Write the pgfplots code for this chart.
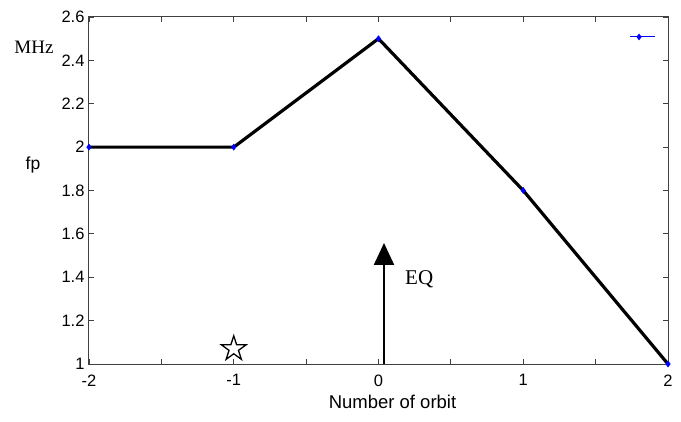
\documentclass[border=0pt]{standalone}
\usepackage{pgfplots}
\pgfplotsset{compat=1.18}
\usepackage{fontspec}
\setmainfont{Liberation Sans}
\newfontfamily\timesf{Liberation Serif}
\usetikzlibrary{arrows.meta}
\pgfdeclareplotmark{ostar}{%
  \pgfpathmoveto{\pgfqpointpolar{90}{\pgfplotmarksize}}%
  \pgfpathlineto{\pgfqpointpolar{126}{0.382\pgfplotmarksize}}%
  \pgfpathlineto{\pgfqpointpolar{162}{\pgfplotmarksize}}%
  \pgfpathlineto{\pgfqpointpolar{198}{0.382\pgfplotmarksize}}%
  \pgfpathlineto{\pgfqpointpolar{234}{\pgfplotmarksize}}%
  \pgfpathlineto{\pgfqpointpolar{270}{0.382\pgfplotmarksize}}%
  \pgfpathlineto{\pgfqpointpolar{306}{\pgfplotmarksize}}%
  \pgfpathlineto{\pgfqpointpolar{342}{0.382\pgfplotmarksize}}%
  \pgfpathlineto{\pgfqpointpolar{18}{\pgfplotmarksize}}%
  \pgfpathlineto{\pgfqpointpolar{54}{0.382\pgfplotmarksize}}%
  \pgfpathclose
  \pgfusepathqfillstroke}
\begin{document}
\begin{tikzpicture}[x=1pt,y=1pt]
\useasboundingbox (0,0) rectangle (681,421);
\begin{axis}[
  at={(89pt,57pt)}, anchor=south west,
  scale only axis, width=579pt, height=347pt,
  xmin=-2, xmax=2, ymin=1, ymax=2.6,
  xtick={-2,-1,0,1,2},
  minor xtick={-1.5,-0.5,0.5,1.5},
  ytick={1,1.2,...,2.6},
  yticklabels={1,1.2,1.4,1.6,1.8,2,2.2,2.4,2.6},
  xticklabels={-2,-1,0,1,2},
  tick pos=both, tick align=inside,
  major tick length=5pt, minor tick length=5pt,
  axis line style={line width=1pt, black!75},
  every tick/.style={black!75, line width=0.8pt},
  tick label style={font=\fontsize{16.5}{18}\selectfont},
  /pgf/number format/assume math mode=true,
  xticklabel style={yshift=-7pt},
  yticklabel style={xshift=-1pt},
  xlabel={\fontsize{18.5}{20}\selectfont Number of orbit},
  xlabel style={yshift=-2pt, xshift=14pt},
  clip=false,
]
\addplot[black, line width=3.2pt, mark=diamond*, mark size=3pt,
  mark options={blue, fill=blue, line width=0.5pt}]
  coordinates {(-2,2) (-1,2) (0,2.5) (1,1.8) (2,1)};
\addplot[blue, line width=1pt, forget plot] coordinates {(1.737,2.508) (1.91,2.508)};
\addplot[only marks, mark=diamond*, mark size=3pt, blue, forget plot] coordinates {(1.80,2.508)};
\addplot[only marks, mark=ostar, mark size=13pt, mark options={line width=1.3pt, draw=black, fill=white}] coordinates {(-1,1.07)};
\addplot[black, line width=2pt, -{Triangle[length=22pt, width=20pt]}] coordinates {(0.038,1) (0.038,1.558)};
\node[font=\timesf\fontsize{21}{23}\selectfont, anchor=west] at (axis cs:0.16,1.39) {EQ};
\end{axis}
\node[font=\timesf\fontsize{19}{21}\selectfont, anchor=center] at (34,374) {MHz};
\node[font=\fontsize{17.5}{19}\selectfont, anchor=center] at (33,256) {fp};
\end{tikzpicture}
\end{document}
